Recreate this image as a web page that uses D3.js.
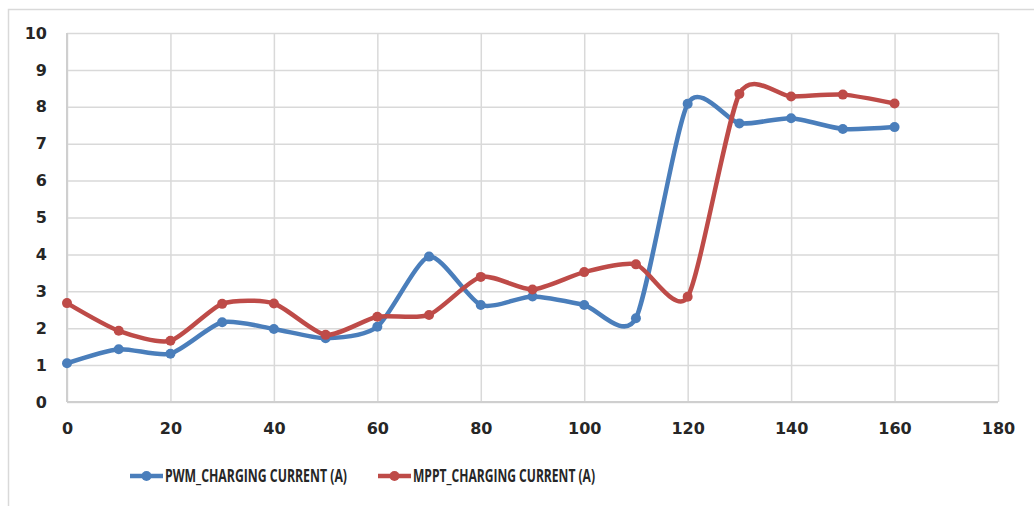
<!DOCTYPE html>
<html>
<head>
<meta charset="utf-8">
<script src="https://cdn.jsdelivr.net/npm/d3@7"></script>
<style>
  body { margin: 0; background: #fff; }
  svg { display: block; }
  .tick text { font-family: "DejaVu Sans", sans-serif; font-weight: 700; font-size: 16px; fill: #262626; }
  .legend text { font-family: "Open Sans", sans-serif; font-weight: 700; font-size: 18px; fill: #262626; }
</style>
</head>
<body>
<div id="chart"></div>
<script>
// x values (input)
const xValues = [0, 10, 20, 30, 40, 50, 60, 70, 80, 90, 100, 110, 120, 130, 140, 150, 160];
// series
const pwmCurrent  = [1.05, 1.43, 1.31, 2.16, 1.98, 1.73, 2.04, 3.94, 2.63, 2.86, 2.63, 2.27, 8.08, 7.55, 7.69, 7.40, 7.45];
const mpptCurrent = [2.68, 1.93, 1.66, 2.66, 2.67, 1.82, 2.31, 2.36, 3.39, 3.05, 3.52, 3.73, 2.85, 8.35, 8.28, 8.33, 8.09];
const seriesNames = ["PWM_CHARGING CURRENT (A)", "MPPT_CHARGING CURRENT (A)"];
const seriesColors = ["#4a7ebb", "#be4b48"];
const xTicks = [0, 20, 40, 60, 80, 100, 120, 140, 160, 180];
const yTicks = [0, 1, 2, 3, 4, 5, 6, 7, 8, 9, 10];

const W = 1034, H = 506;
const plot = {left: 67, top: 33, right: 998, bottom: 402};

const svg = d3.select("#chart").append("svg")
  .attr("width", W).attr("height", H);

// outer chart frame
svg.append("rect")
  .attr("x", 8.5).attr("y", 9.5)
  .attr("width", 1040).attr("height", 520)
  .attr("fill", "none").attr("stroke", "#d9d9d9").attr("stroke-width", 1.5);

const x = d3.scaleLinear().domain([0, 180]).range([plot.left, plot.right]);
const y = d3.scaleLinear().domain([0, 10]).range([plot.bottom, plot.top]);

// gridlines
svg.append("g")
  .attr("transform", `translate(0,${plot.bottom})`)
  .call(d3.axisBottom(x).tickValues(xTicks).tickSize(-(plot.bottom - plot.top)).tickFormat(""))
  .call(g => g.select(".domain").remove())
  .call(g => g.selectAll("line").attr("stroke", "#d9d9d9").attr("stroke-width", 1.5));

svg.append("g")
  .attr("transform", `translate(${plot.left},0)`)
  .call(d3.axisLeft(y).tickValues(yTicks).tickSize(-(plot.right - plot.left)).tickFormat(""))
  .call(g => g.select(".domain").remove())
  .call(g => g.selectAll("line").attr("stroke", "#d9d9d9").attr("stroke-width", 1.5));

// axis lines
svg.append("line")
  .attr("x1", plot.left).attr("x2", plot.left)
  .attr("y1", plot.top).attr("y2", plot.bottom)
  .attr("stroke", "#cfcfcf").attr("stroke-width", 2);
svg.append("line")
  .attr("x1", plot.left).attr("x2", plot.right)
  .attr("y1", plot.bottom).attr("y2", plot.bottom)
  .attr("stroke", "#cfcfcf").attr("stroke-width", 2);

// tick labels
svg.append("g")
  .attr("transform", `translate(0,${plot.bottom})`)
  .call(d3.axisBottom(x).tickValues(xTicks).tickSize(0).tickPadding(21))
  .call(g => g.select(".domain").remove());

svg.append("g")
  .attr("transform", `translate(${plot.left},0)`)
  .call(d3.axisLeft(y).tickValues(yTicks).tickSize(0).tickPadding(20))
  .call(g => g.select(".domain").remove());

// lines (smoothed, a bit tighter than plain Catmull-Rom)
const line = d3.line()
  .x(d => x(d[0]))
  .y(d => y(d[1]))
  .curve(d3.curveCardinal.tension(0.3));

[pwmCurrent, mpptCurrent].forEach((vals, i) => {
  const pts = xValues.map((v, j) => [v, vals[j]]);
  svg.append("path")
    .datum(pts)
    .attr("fill", "none")
    .attr("stroke", seriesColors[i])
    .attr("stroke-width", 4.5)
    .attr("stroke-linejoin", "round")
    .attr("d", line);
  svg.append("g").selectAll("circle")
    .data(pts)
    .join("circle")
    .attr("cx", d => x(d[0]))
    .attr("cy", d => y(d[1]))
    .attr("r", 5)
    .attr("fill", seriesColors[i]);
});

// legend
const legendX = [130, 378];
const legendY = 476;
const legend = svg.append("g").attr("class", "legend");
seriesNames.forEach((name, i) => {
  const g = legend.append("g").attr("transform", `translate(${legendX[i]},${legendY})`);
  g.append("line")
    .attr("x1", 0).attr("x2", 33).attr("y1", 0).attr("y2", 0)
    .attr("stroke", seriesColors[i]).attr("stroke-width", 4.5);
  g.append("circle").attr("cx", 16.5).attr("cy", 0).attr("r", 5).attr("fill", seriesColors[i]);
  g.append("text")
    .attr("x", 35).attr("y", 0)
    .attr("dy", "0.36em")
    .attr("textLength", 182)
    .attr("lengthAdjust", "spacingAndGlyphs")
    .text(name);
});
</script>
</body>
</html>
